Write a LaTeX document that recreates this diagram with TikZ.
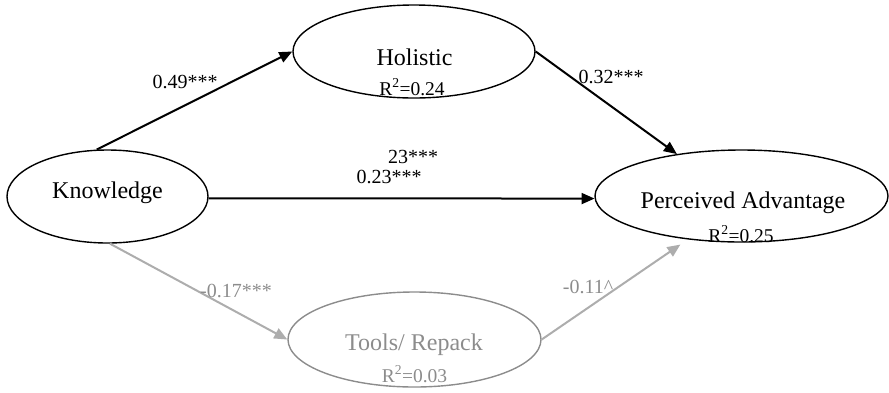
\documentclass[tikz,border=0pt]{standalone}
\usepackage{fontspec}
\setmainfont{Liberation Serif}
\usetikzlibrary{shapes.geometric,arrows.meta}
\definecolor{weaktext}{HTML}{8C8C8C}
\definecolor{weakline}{HTML}{ADADAD}
\tikzset{
  construct/.style={ellipse,draw,line width=1.4pt,inner sep=0pt},
  weakconstruct/.style={construct,draw=weaktext},
  title/.style={anchor=base,inner sep=0pt,font=\fontsize{24}{28}\selectfont},
  rsq/.style={anchor=base,inner sep=0pt,font=\fontsize{19.5}{23}\selectfont},
  coef/.style={anchor=base,inner sep=0pt,font=\fontsize{20}{24}\selectfont},
  path/.style={line width=2pt,-{Triangle[length=13pt,width=11pt]}},
  weakpath/.style={path,draw=weakline,-{Triangle[length=13pt,width=11pt,fill=weakline]}}
}
\begin{document}
\begin{tikzpicture}[x=1pt,y=-1pt]
\useasboundingbox (0,0) rectangle (889,392);

% latent constructs
\node[construct,minimum width=201pt,minimum height=93pt] (K) at (107.5,196.5) {};
\node[construct,minimum width=242pt,minimum height=93pt] (H) at (414,51.5) {};
\node[construct,minimum width=293pt,minimum height=92pt] (PA) at (741.5,196) {};
\node[weakconstruct,minimum width=253pt,minimum height=95pt] (T) at (414.5,339.5) {};

% construct labels
\node[title] (Klab) at (107.5,198) {Knowledge};
\node[title] (Hlab) at (414.5,65) {Holistic};
\node[rsq] (Hr) at (412,95) {R\textsuperscript{2}=0.24};
\node[title] (PAlab) at (743,208) {Perceived Advantage};
\node[rsq] (PAr) at (741,242) {R\textsuperscript{2}=0.25};
\node[title,text=weaktext] (Tlab) at (414,350) {Tools/ Repack};
\node[rsq,text=weaktext] (Tr) at (414.5,382) {R\textsuperscript{2}=0.03};

% structural paths
\draw[path] (K.103) -- (H.west);
\draw[path] (H.east) -- (PA.147);
\draw[path] (K.-1) -- (PA.181);
\draw[weakpath] (K.-87) -- (T.west);
\draw[weakpath,shorten >=9pt] (T.east) -- (PA.219.5);

% path coefficients
\node[coef] (c1) at (185,88) {0.49***};
\node[coef] (c2) at (611,83) {0.32***};
\node[coef] (c3a) at (413,163) {23***};
\node[coef] (c3b) at (389,183) {0.23***};
\node[coef,text=weaktext] (c4) at (236,297) {-0.17***};
\node[coef,text=weaktext] (c5) at (588,293) {-0.11\^{}};
\end{tikzpicture}
\end{document}
